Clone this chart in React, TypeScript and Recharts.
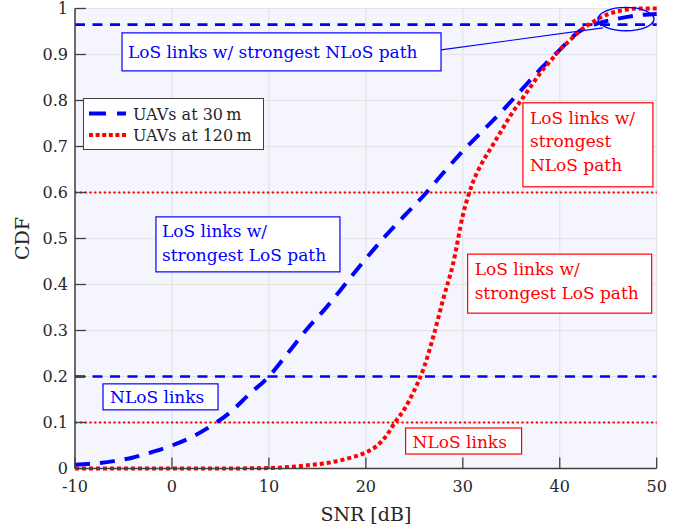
import React from 'react';
import {
  LineChart, Line, XAxis, YAxis, CartesianGrid, ReferenceLine, ReferenceDot, Legend,
} from 'recharts';

// ---- data ----
const SNR_30M = [-10, -8, -6, -4, -2, 0, 2, 4, 6, 8, 10, 12, 14, 16, 18, 20, 22, 24, 26, 28, 30, 32, 34, 36, 38, 40, 42, 44, 46, 48, 50];
const CDF_30M = [0.008, 0.011, 0.016, 0.024, 0.036, 0.05, 0.068, 0.092, 0.122, 0.162, 0.2, 0.252, 0.305, 0.352, 0.404, 0.456, 0.505, 0.55, 0.594, 0.643, 0.69, 0.733, 0.776, 0.822, 0.868, 0.91, 0.95, 0.968, 0.978, 0.985, 0.988];

const SNR_120M = [-10, -5, 0, 5, 10, 12, 14, 16, 18, 20, 21, 22, 23, 24, 25, 26, 27, 28, 29, 30, 31, 32, 33, 34, 35, 36, 37, 38, 39, 40, 41, 42, 43, 44, 45, 46, 47, 48, 50];
const CDF_120M = [0, 0, 0, 0, 0.001, 0.003, 0.007, 0.012, 0.021, 0.035, 0.047, 0.068, 0.1, 0.13, 0.17, 0.22, 0.29, 0.37, 0.445, 0.55, 0.62, 0.665, 0.7, 0.735, 0.77, 0.8, 0.83, 0.86, 0.885, 0.91, 0.93, 0.95, 0.965, 0.978, 0.988, 0.994, 0.998, 1, 1];

const X_TICKS = [-10, 0, 10, 20, 30, 40, 50];
const Y_TICKS = [0, 0.1, 0.2, 0.3, 0.4, 0.5, 0.6, 0.7, 0.8, 0.9, 1];
const Y_TICK_LABELS = ['0', '0.1', '0.2', '0.3', '0.4', '0.5', '0.6', '0.7', '0.8', '0.9', '1'];

const LEGEND_LABELS = ['UAVs at 30\u2009m', 'UAVs at 120\u2009m'];

// reference levels
const LEVEL_30M_NLOS_PATH = 0.965;
const LEVEL_30M_NLOS = 0.2;
const LEVEL_120M_NLOS_PATH = 0.6;
const LEVEL_120M_NLOS = 0.1;

const data30 = SNR_30M.map((x, i) => ({ x, y: CDF_30M[i] }));
const data120 = SNR_120M.map((x, i) => ({ x, y: CDF_120M[i] }));

const FONT = '"DejaVu Serif", "Liberation Serif", serif';
const BLUE = '#0000ff';
const RED = '#ff0000';
const AXIS = '#404040';

const XTick = (p: any) => {
  const { x, y, payload } = p;
  return (
    <g>
      <line x1={x} x2={x} y1={y - 12} y2={y - 23} stroke={AXIS} strokeWidth={1.3} />
      <text x={x} y={y} dy="0.71em" textAnchor="middle" fontSize={16} fontFamily={FONT} fill="#262626">
        {payload.value}
      </text>
    </g>
  );
};

const YTick = (p: any) => {
  const { x, y, payload } = p;
  const idx = Y_TICKS.findIndex((t) => Math.abs(t - payload.value) < 1e-9);
  return (
    <g>
      <line x1={x + 7} x2={x + 18} y1={y} y2={y} stroke={AXIS} strokeWidth={1.3} />
      <text x={x} y={y} dy="0.36em" textAnchor="end" fontSize={16} fontFamily={FONT} fill="#262626">
        {idx >= 0 ? Y_TICK_LABELS[idx] : payload.value}
      </text>
    </g>
  );
};

const boxShape = (
  lines: string[], w: number, h: number, color: string, padX: number, firstBase: number, lineH: number,
) => (p: any) => (
  <g>
    <rect x={p.cx} y={p.cy} width={w} height={h} fill="#ffffff" stroke={color} strokeWidth={1.2} />
    {lines.map((t, i) => (
      <text key={i} x={p.cx + padX} y={p.cy + firstBase + i * lineH} fill={color} fontSize={17} fontFamily={FONT}>
        {t}
      </text>
    ))}
  </g>
);

const ellipseShape = (p: any) => (
  <ellipse cx={p.cx} cy={p.cy} rx={28} ry={11.7} fill="none" stroke={BLUE} strokeWidth={1.4} />
);

const LegendBox = () => (
  <svg width={181} height={52} style={{ display: 'block' }}>
    <rect x={0.5} y={0.5} width={180} height={51} fill="#ffffff" stroke={AXIS} strokeWidth={1} />
    <line x1={6} x2={43} y1={15.5} y2={15.5} stroke={BLUE} strokeWidth={4} strokeDasharray="17 11" />
    <text x={50} y={21.5} fontSize={16} fontFamily={FONT} fill="#262626">{LEGEND_LABELS[0]}</text>
    <line x1={6} x2={43} y1={37} y2={37} stroke={RED} strokeWidth={4} strokeDasharray="4 2.6" />
    <text x={50} y={43} fontSize={16} fontFamily={FONT} fill="#262626">{LEGEND_LABELS[1]}</text>
  </svg>
);

export default function App() {
  return (
    <div style={{ position: 'absolute', left: 0, top: 0, background: '#ffffff' }}>
      <LineChart
        width={694}
        height={529}
        margin={{ top: 8.5, right: 37.3, bottom: 15.5, left: 15 }}
        style={{ fontFamily: FONT }}
      >
        <CartesianGrid stroke="#e3e3e3" strokeWidth={1.2} fill="#f5f5fd" />
        <XAxis
          type="number"
          dataKey="x"
          domain={[-10, 50]}
          ticks={X_TICKS}
          interval={0}
          height={45}
          tickSize={0}
          tickMargin={12}
          tickLine={false}
          axisLine={{ stroke: AXIS, strokeWidth: 1.5 }}
          tick={<XTick />}
          allowDecimals
          label={{
            content: (props: any) => {
              const vb = props.viewBox;
              return (
                <text x={vb.x + vb.width / 2} y={vb.y + 52} textAnchor="middle" fontSize={19} fontFamily={FONT} fill="#262626">
                  SNR [dB]
                </text>
              );
            },
          }}
        />
        <YAxis
          type="number"
          domain={[0, 1]}
          ticks={Y_TICKS}
          interval={0}
          width={60}
          tickSize={0}
          tickMargin={7}
          tickLine={false}
          axisLine={{ stroke: AXIS, strokeWidth: 1.5 }}
          tick={<YTick />}
          label={{
            content: (props: any) => {
              const vb = props.viewBox;
              const cx = vb.x + 7;
              const cy = vb.y + vb.height / 2;
              return (
                <text x={cx} y={cy} transform={`rotate(-90 ${cx} ${cy})`} textAnchor="middle" dominantBaseline="central" fontSize={19} fontFamily={FONT} fill="#262626">
                  CDF
                </text>
              );
            },
          }}
        />
        <ReferenceLine y={LEVEL_30M_NLOS_PATH} stroke={BLUE} strokeWidth={2.6} strokeDasharray="10 7.5" />
        <ReferenceLine y={LEVEL_30M_NLOS} stroke={BLUE} strokeWidth={2.6} strokeDasharray="10 7.5" />
        <ReferenceLine y={LEVEL_120M_NLOS_PATH} stroke={RED} strokeWidth={2.2} strokeDasharray="2.2 2.6" />
        <ReferenceLine y={LEVEL_120M_NLOS} stroke={RED} strokeWidth={2.2} strokeDasharray="2.2 2.6" />
        <Line
          data={data30}
          dataKey="y"
          type="monotone"
          stroke={BLUE}
          strokeWidth={4}
          strokeDasharray="15 10"
          dot={false}
          activeDot={false}
          isAnimationActive={false}
        />
        <Line
          data={data120}
          dataKey="y"
          type="monotone"
          stroke={RED}
          strokeWidth={4}
          strokeDasharray="4 3"
          dot={false}
          activeDot={false}
          isAnimationActive={false}
        />
        <ReferenceLine
          segment={[{ x: 27.75, y: 0.91 }, { x: 44.46, y: 0.958 }]}
          stroke={BLUE}
          strokeWidth={1.2}
        />
        <ReferenceDot x={46.83} y={0.977} shape={ellipseShape} />
        <ReferenceDot x={-5.15} y={0.947} shape={boxShape(['LoS links w/ strongest NLoS path'], 319, 38, BLUE, 6, 25, 0)} />
        <ReferenceDot x={-1.65} y={0.547} shape={boxShape(['LoS links w/', 'strongest LoS path'], 184, 55, BLUE, 6, 20, 24)} />
        <ReferenceDot x={-7.11} y={0.184} shape={boxShape(['NLoS links'], 115, 26, BLUE, 7, 19.5, 0)} />
        <ReferenceDot x={36.2} y={0.795} shape={boxShape(['LoS links w/', 'strongest', 'NLoS path'], 130, 84, RED, 7, 21, 23.5)} />
        <ReferenceDot x={30.5} y={0.466} shape={boxShape(['LoS links w/', 'strongest LoS path'], 184, 59, RED, 7, 21, 23.5)} />
        <ReferenceDot x={24.1} y={0.088} shape={boxShape(['NLoS links'], 116, 26, RED, 7, 19.5, 0)} />
        <Legend
          layout="horizontal"
          verticalAlign="middle"
          align="center"
          content={() => <LegendBox />}
          wrapperStyle={{ left: 83, top: 98, width: 181, height: 52 }}
        />
      </LineChart>
    </div>
  );
}
